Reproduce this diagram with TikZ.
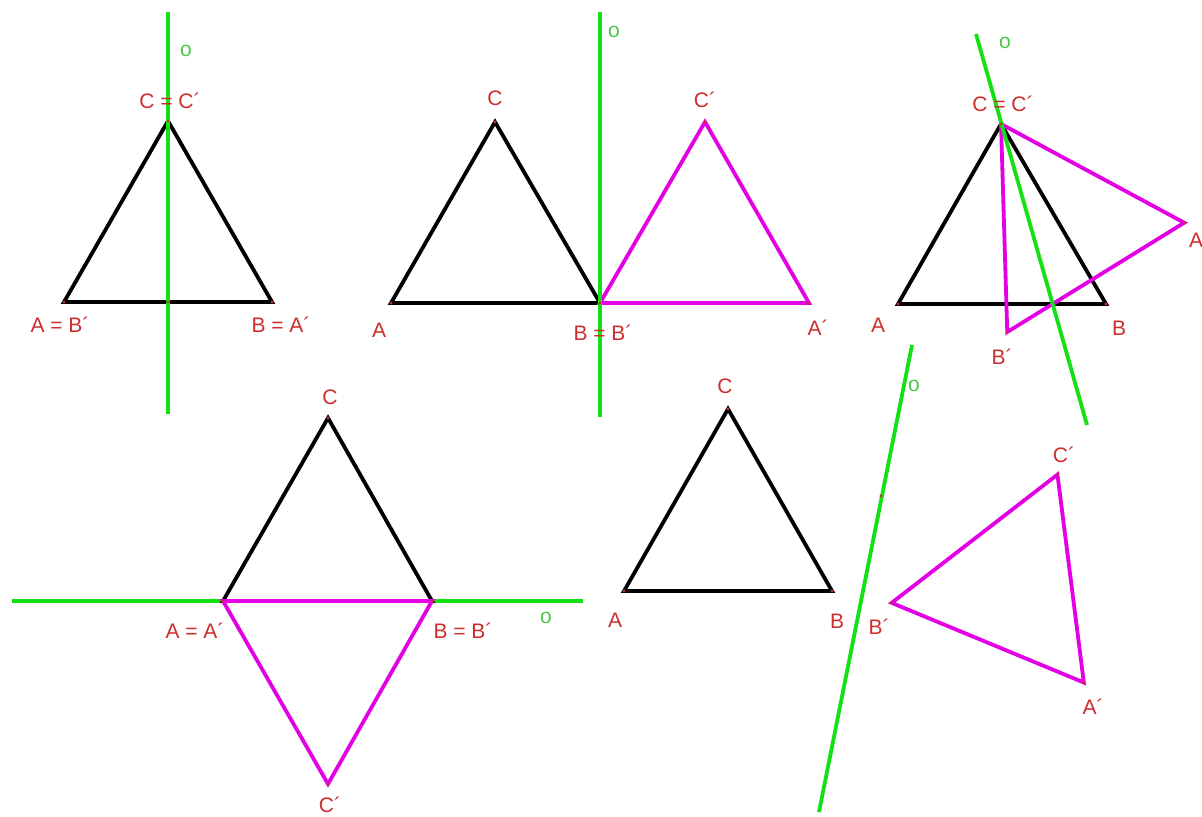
\documentclass[tikz,border=0pt]{standalone}
\usepackage{fontspec}
\setmainfont{Liberation Sans}
\usetikzlibrary{calc}
\definecolor{axisgreen}{RGB}{20,225,20}
\definecolor{imgmag}{RGB}{228,0,228}
\definecolor{lblred}{RGB}{205,45,45}
\definecolor{ogreen}{RGB}{70,200,70}
\tikzset{
  orig/.style={draw=black, line width=1.9pt},
  imagetri/.style={draw=imgmag, line width=1.9pt},
  axisline/.style={draw=axisgreen, line width=1.9pt},
  lbl/.style={text=lblred, font=\fontsize{10.5}{12}\selectfont, inner sep=0pt},
  olbl/.style={text=ogreen, font=\fontsize{10.5}{12}\selectfont, inner sep=0pt},
  vdot/.style={fill=lblred},
}
\begin{document}
\begin{tikzpicture}[x=0.5pt,y=-0.5pt]
\useasboundingbox (0,0) rectangle (1202,817);

% ---------- Panel 1 ----------
\coordinate (A1) at (64,302);
\coordinate (B1) at (272,302);
\coordinate (C1) at (168,121);
\coordinate (M1) at (168,302);
\coordinate (o1t) at (168,12);
\coordinate (o1b) at (168,414);
\draw[orig] (A1) -- (B1) -- (C1) -- cycle;
\draw[axisline] (o1t) -- (o1b);
\foreach \p in {A1,B1,C1,M1} \fill[vdot] (\p) circle (1.6);
\node[olbl] (o1) at (186,51) {o};
\node[lbl] (l1c) at (170,101) {C = C´};
\node[lbl] (l1a) at (60,325) {A = B´};
\node[lbl] (l1b) at (281,325) {B = A´};

% ---------- Panel 2 ----------
\coordinate (A2) at (391,303);
\coordinate (B2) at (600,303);
\coordinate (C2) at (495,122);
\coordinate (o2t) at (600,12);
\coordinate (o2b) at (600,417);
\coordinate (pA2) at ($(o2t)!(A2)!(o2b)$);
\coordinate (pC2) at ($(o2t)!(C2)!(o2b)$);
\coordinate (A2r) at ($(A2)!2!(pA2)$);
\coordinate (C2r) at ($(C2)!2!(pC2)$);
\draw[orig] (A2) -- (B2) -- (C2) -- cycle;
\draw[imagetri] (A2r) -- (B2) -- (C2r) -- cycle;
\draw[axisline] (o2t) -- (o2b);
\foreach \p in {A2,B2,C2,A2r,C2r} \fill[vdot] (\p) circle (1.6);
\node[olbl] (o2) at (614,32) {o};
\node[lbl] (l2c) at (495,98) {C};
\node[lbl] (l2cr) at (705,100) {C´};
\node[lbl] (l2a) at (379,330) {A};
\node[lbl] (l2b) at (603,333) {B = B´};
\node[lbl] (l2ar) at (818,328) {A´};

% ---------- Panel 3 ----------
\coordinate (A3) at (898,304);
\coordinate (B3) at (1106,304);
\coordinate (C3) at (1001,124);
\coordinate (o3t) at (976,34);
\coordinate (o3b) at (1087,425);
\coordinate (pA3) at ($(o3t)!(A3)!(o3b)$);
\coordinate (pB3) at ($(o3t)!(B3)!(o3b)$);
\coordinate (A3r) at ($(A3)!2!(pA3)$);
\coordinate (B3r) at ($(B3)!2!(pB3)$);
\draw[orig] (A3) -- (B3) -- (C3) -- cycle;
\draw[imagetri] (A3r) -- (B3r) -- (C3) -- cycle;
\draw[axisline] (o3t) -- (o3b);
\foreach \p in {A3,B3,C3,A3r,B3r} \fill[vdot] (\p) circle (1.6);
\node[olbl] (o3) at (1005,43) {o};
\node[lbl] (l3c) at (1003,104) {C = C´};
\node[lbl] (l3a) at (878,325) {A};
\node[lbl] (l3b) at (1119,328) {B};
\node[lbl] (l3br) at (1002,357) {B´};
\node[lbl] (l3ar) at (1196,240) {A};

% ---------- Panel 4 ----------
\coordinate (A4) at (223,601);
\coordinate (B4) at (432,601);
\coordinate (C4) at (328,418);
\coordinate (o4l) at (12,601);
\coordinate (o4r) at (583,601);
\coordinate (pC4) at ($(o4l)!(C4)!(o4r)$);
\coordinate (C4r) at ($(C4)!2!(pC4)$);
\draw[axisline] (o4l) -- (o4r);
\draw[orig] (A4) -- (B4) -- (C4) -- cycle;
\draw[imagetri] (A4) -- (B4) -- (C4r) -- cycle;
\foreach \p in {A4,B4,C4,C4r} \fill[vdot] (\p) circle (1.6);
\node[olbl] (o4) at (546,618) {o};
\node[lbl] (l4c) at (330,397) {C};
\node[lbl] (l4a) at (195,631) {A = A´};
\node[lbl] (l4b) at (463,631) {B = B´};
\node[lbl] (l4cr) at (330,805) {C´};

% ---------- Panel 5 ----------
\coordinate (A5) at (624,591);
\coordinate (B5) at (832,591);
\coordinate (C5) at (728,409);
\coordinate (o5t) at (912,345);
\coordinate (o5b) at (819,812);
\coordinate (M5) at (881,496);
\coordinate (pA5) at ($(o5t)!(A5)!(o5b)$);
\coordinate (pB5) at ($(o5t)!(B5)!(o5b)$);
\coordinate (pC5) at ($(o5t)!(C5)!(o5b)$);
\coordinate (A5r) at ($(A5)!2!(pA5)$);
\coordinate (B5r) at ($(B5)!2!(pB5)$);
\coordinate (C5r) at ($(C5)!2!(pC5)$);
\draw[orig] (A5) -- (B5) -- (C5) -- cycle;
\draw[imagetri] (A5r) -- (B5r) -- (C5r) -- cycle;
\draw[axisline] (o5t) -- (o5b);
\foreach \p in {A5,B5,C5,A5r,B5r,C5r,M5} \fill[vdot] (\p) circle (1.6);
\node[olbl] (o5) at (914,386) {o};
\node[lbl] (l5c) at (725,386) {C};
\node[lbl] (l5a) at (615,620) {A};
\node[lbl] (l5b) at (837,621) {B};
\node[lbl] (l5br) at (879,627) {B´};
\node[lbl] (l5cr) at (1064,455) {C´};
\node[lbl] (l5ar) at (1093,707) {A´};
\end{tikzpicture}
\end{document}
